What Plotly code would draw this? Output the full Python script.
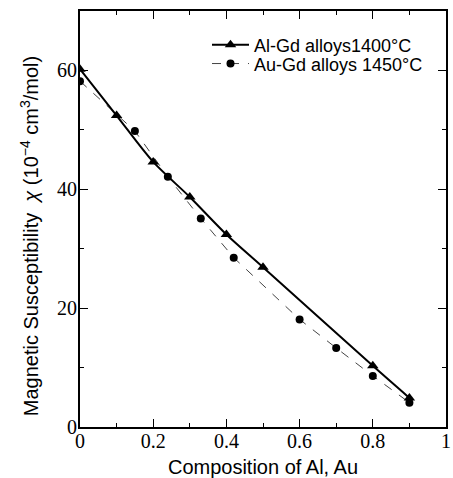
import plotly.graph_objects as go

# Al-Gd alloys 1400°C
al_x = [0.0, 0.1, 0.2, 0.3, 0.4, 0.5, 0.8, 0.9]
al_y = [60.2, 52.4, 44.6, 38.7, 32.4, 26.9, 10.3, 4.9]

# Au-Gd alloys 1450°C
au_x = [0.0, 0.15, 0.24, 0.33, 0.42, 0.6, 0.7, 0.8, 0.9]
au_y = [58.2, 49.8, 42.1, 35.1, 28.5, 18.1, 13.3, 8.6, 4.1]

x_ticks = [0, 0.2, 0.4, 0.6, 0.8, 1]
x_labels = ["0", "0.2", "0.4", "0.6", "0.8", "1"]
y_ticks = [0, 20, 40, 60]
y_labels = ["0", "20", "40", "60"]

SERIF = "Liberation Serif, Times New Roman, Tinos, serif"
SANS = "Liberation Sans"

fig = go.Figure()
fig.add_trace(go.Scatter(
    x=au_x, y=au_y, mode="lines+markers", name="Au-Gd alloys 1450°C",
    line=dict(color="#444444", width=1, dash="dash"),
    marker=dict(symbol="circle", size=8, color="black"),
    legend="legend2", showlegend=True,
))
fig.add_trace(go.Scatter(
    x=al_x, y=al_y, mode="lines+markers", name="Al-Gd alloys1400°C",
    line=dict(color="black", width=2, shape="spline", smoothing=0.8),
    marker=dict(symbol="triangle-up", size=10, color="black"),
    legend="legend", showlegend=True,
))

axis_common = dict(
    showline=True, linecolor="black", linewidth=2, mirror="ticks",
    ticks="inside", ticklen=8, tickwidth=1, tickcolor="black",
    showgrid=False, zeroline=False, automargin=False,
)
tick_font = dict(family=SERIF, size=20, color="black")

fig.update_xaxes(
    range=[0, 1], tickvals=x_ticks, ticktext=x_labels,
    tickfont=tick_font,
    minor=dict(ticks="inside", ticklen=4, dtick=0.1, tickcolor="black", showgrid=False),
    title=dict(text="Composition of Al, Au", font=dict(family=SANS, size=20, color="black"), standoff=9),
    ticklabelstandoff=-5,
    **axis_common,
)
fig.update_yaxes(
    range=[0, 70], tickvals=y_ticks, ticktext=y_labels,
    tickfont=tick_font,
    minor=dict(ticks="inside", ticklen=4, dtick=10, tickcolor="black", showgrid=False),
    ticklabelstandoff=-3,
    **axis_common,
)

fig.add_annotation(
    text="Magnetic Susceptibility  <i>χ</i> (10<sup>−4</sup> cm<sup>3</sup>/mol)",
    xref="paper", yref="paper", x=-0.139, y=0.459, textangle=-90,
    showarrow=False, xanchor="center", yanchor="middle",
    font=dict(family=SANS, size=20, color="black"),
)

leg_common = dict(
    xanchor="left", yanchor="middle", bgcolor="rgba(0,0,0,0)",
    font=dict(family=SANS, size=18, color="black"), itemwidth=37,
)
fig.update_layout(
    width=453, height=478,
    margin=dict(l=80, r=7, t=11, b=51),
    plot_bgcolor="white", paper_bgcolor="white",
    showlegend=True,
    legend=dict(x=0.347, y=0.918, **leg_common),
    legend2=dict(x=0.347, y=0.873, **leg_common),
)

fig.write_html(
    "out.html",
    config={"displayModeBar": False},
    post_script="document.body.style.margin='0';document.body.style.overflow='hidden';",
)
